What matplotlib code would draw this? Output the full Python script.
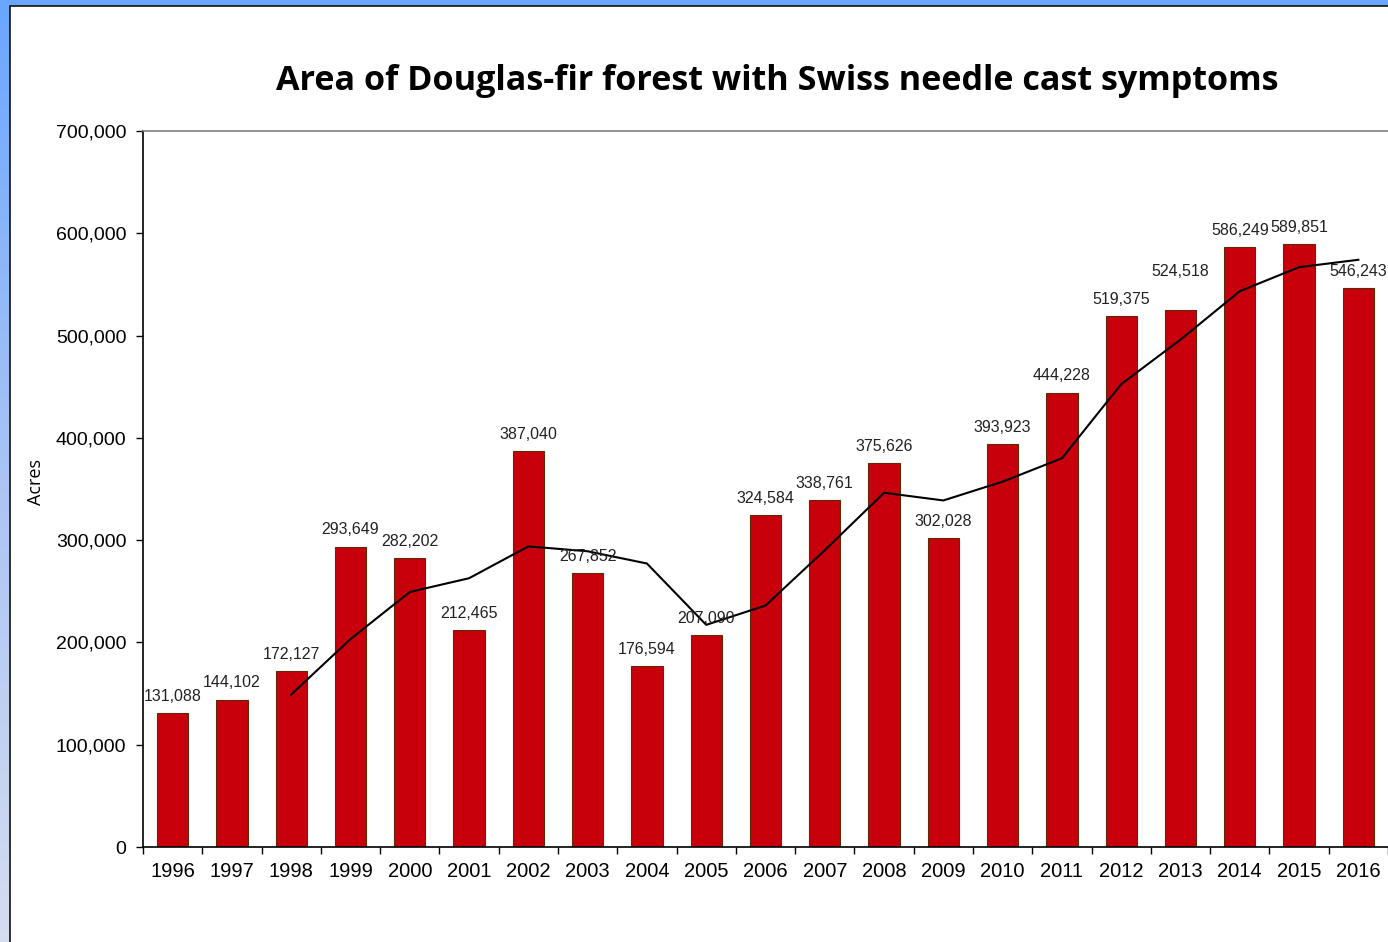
import numpy as np
import matplotlib.pyplot as plt
from matplotlib.patches import Rectangle
from matplotlib.colors import LinearSegmentedColormap

years = ['1996', '1997', '1998', '1999', '2000', '2001', '2002', '2003', '2004', '2005', '2006',
         '2007', '2008', '2009', '2010', '2011', '2012', '2013', '2014', '2015', '2016']
acres = [131088, 144102, 172127, 293649, 282202, 212465, 387040, 267852, 176594, 207090, 324584,
         338761, 375626, 302028, 393923, 444228, 519375, 524518, 586249, 589851, 546243]
# 3-year moving average line (1998 onward)
avg_acres = [149106, 203293, 249326, 262772, 293902, 289119, 277162, 217179, 236089, 290145,
             346324, 338805, 357192, 380060, 452509, 496040, 543381, 566873, 574114]

plt.rcParams['font.family'] = ['Liberation Sans', 'DejaVu Sans']

fig = plt.figure(figsize=(13.88, 9.42), dpi=100)

# blue slide frame
bg = fig.add_axes([0, 0, 1, 1])
grad = np.linspace(0, 1, 256).reshape(-1, 1)
cmap = LinearSegmentedColormap.from_list('frame', ['#6aa6ff', '#a9c4f5', '#d6dcf0'])
bg.imshow(grad, aspect='auto', cmap=cmap, extent=[0, 1, 0, 1])
bg.add_patch(Rectangle((9.5 / 1388, -0.01), 1.1, (942 - 5.5) / 942 + 0.01,
                       facecolor='white', edgecolor='#111111', linewidth=1.2))
bg.set_xlim(0, 1)
bg.set_ylim(0, 1)
bg.axis('off')

ax = fig.add_axes([143 / 1388, 1 - 847 / 942, 1 - 143 / 1388, (847 - 131) / 942])
ax.set_facecolor('none')
x = np.arange(len(years))
ax.bar(x, acres, width=0.53, color='#c8000c', edgecolor='#5c2a08', linewidth=0.8, zorder=2)
ax.plot(x[2:], avg_acres, color='black', linewidth=1.5, zorder=3)

for xi, v in zip(x, acres):
    dy = 12
    if years[xi] == '2013':
        dy = 28  # lifted clear of the trend line
    ax.annotate(f'{v:,}', (xi, v), xytext=(0, dy), textcoords='offset points',
                ha='center', va='center', fontsize=11.5, color='#222222', zorder=4)

ax.set_xlim(-0.5, len(years) - 0.5)
ax.set_ylim(0, 700000)
ax.set_yticks(np.arange(0, 700001, 100000))
ax.set_yticklabels([f'{t:,}' for t in range(0, 700001, 100000)], fontsize=14)
ax.set_xticks(x)
ax.set_xticklabels(years, fontsize=14.5)
ax.set_xticks(np.arange(-0.5, len(years), 1), minor=True)
ax.tick_params(axis='x', which='major', length=0, pad=11)
ax.tick_params(axis='x', which='minor', length=5, width=1, direction='out')
ax.tick_params(axis='y', length=5, width=1, direction='out', pad=7)
ax.spines['right'].set_visible(False)
ax.spines['top'].set_color('#7f7f7f')
ax.spines['top'].set_linewidth(1.2)
ax.spines['left'].set_linewidth(1.2)
ax.spines['bottom'].set_linewidth(1.2)

ax.set_ylabel('Acres', fontsize=13, family=['Open Sans', 'DejaVu Sans'])
ax.yaxis.set_label_coords(-0.079, 0.51)

fig.text(777 / 1388, 1 - 81 / 942, 'Area of Douglas-fir forest with Swiss needle cast symptoms',
         ha='center', va='center', fontsize=24.6, fontweight='bold',
         family=['Open Sans', 'DejaVu Sans'], color='black')

fig.savefig('out.png', dpi=100)
